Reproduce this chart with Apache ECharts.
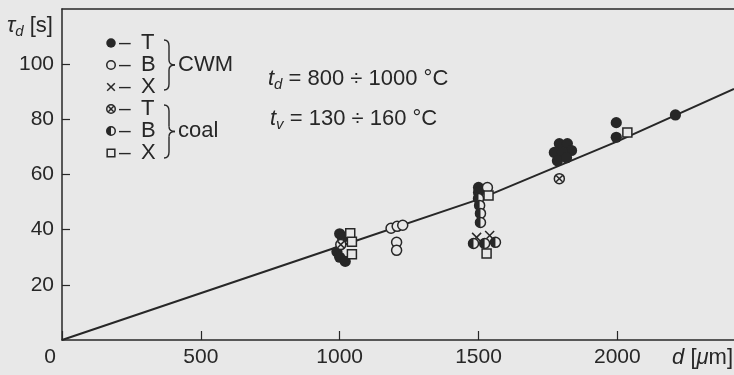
<!DOCTYPE html>
<html>
<head>
<meta charset="utf-8">
<script src="https://cdn.jsdelivr.net/npm/echarts@6/dist/echarts.min.js"></script>
<style>
  html, body { margin: 0; padding: 0; background: #e8e8e8; }
  #chart { width: 734px; height: 375px; }
</style>
</head>
<body>
<div id="chart"></div>
<script>
// Correlation line tau_d(d)
const lineD = [0, 1000, 1500, 2000, 2420];
const lineT = [0, 34, 51, 72, 91];

// CWM droplets: T, B, X fuels  [d (um), tau_d (s)]
const cwmT = [[1000, 38.5], [1010, 37], [990, 32], [1000, 30], [1020, 28.5],
              [1500, 55.3], [1500, 53.5],
              [1791, 71.2], [1820, 71.2], [1773, 68], [1835, 68.7], [1802, 68], [1784, 65], [1817, 66.1],
              [1996, 78.8], [1996, 73.5], [2209, 81.6]];
const cwmB = [[1185, 40.5], [1207, 41.2], [1227, 41.6], [1205, 35.4], [1205, 32.5], [1532, 55.3]];
const cwmX = [[1493, 37.2], [1540, 37.9]];

// Coal particles: T, B, X
const coalT = [[1004, 34.6], [1791, 58.5]];
const coalB = [[1500, 51.3], [1504, 48.8], [1507, 45.9], [1507, 42.6], [1482, 35], [1522, 35], [1561, 35.4]];
const coalX = [[1038, 38.7], [1044, 35.6], [1044, 31.1], [1536, 52.4], [1529, 31.4], [2036, 75.2]];

const xMin = 0, xMax = 2420, xStep = 500;
const yMin = 0, yMax = 120, yStep = 20;

const INK = '#272727';
const BG = '#e8e8e8';
const FONT = '"Liberation Sans", Arial, Helvetica, sans-serif';

// marker shapes in pixel space
function mark(kind, x, y, k) {
  k = k || 1;
  const r = 5 * k;
  const lw = 1.5;
  const ring = { type: 'circle', shape: { cx: x, cy: y, r: r }, style: { fill: BG, stroke: INK, lineWidth: lw } };
  const ln = (x1, y1, x2, y2) => ({ type: 'line', shape: { x1, y1, x2, y2 }, style: { stroke: INK, lineWidth: lw } });
  let children;
  if (kind === 'filled') {
    children = [{ type: 'circle', shape: { cx: x, cy: y, r: 5.6 * k }, style: { fill: INK } }];
  } else if (kind === 'open') {
    children = [ring];
  } else if (kind === 'cross') {
    const h = 4.5 * k;
    children = [ln(x - h, y - h, x + h, y + h), ln(x - h, y + h, x + h, y - h)];
  } else if (kind === 'crossCircle') {
    const h = 3.2 * k;
    children = [ring, ln(x - h, y - h, x + h, y + h), ln(x - h, y + h, x + h, y - h)];
  } else if (kind === 'half') {
    children = [ring, { type: 'sector', shape: { cx: x, cy: y, r0: 0, r: r, startAngle: Math.PI / 2, endAngle: Math.PI * 1.5, clockwise: true }, style: { fill: INK } }];
  } else {
    const h = 4.5 * k;
    children = [{ type: 'rect', shape: { x: x - h, y: y - h, width: 2 * h, height: 2 * h }, style: { fill: BG, stroke: INK, lineWidth: lw } }];
  }
  return { type: 'group', children: children };
}

function markerSeries(name, data, kind) {
  return {
    name: name, type: 'custom', data: data, encode: { x: 0, y: 1 }, z: 5,
    renderItem: function (params, api) {
      const p = api.coord([api.value(0), api.value(1)]);
      return mark(kind, p[0], p[1], 1);
    }
  };
}

// text runs laid out by measured widths
const ctx = document.createElement('canvas').getContext('2d');
function runs(x0, yc, parts, align) {
  const w = parts.map(p => { ctx.font = p.font; return ctx.measureText(p.t).width; });
  const total = w.reduce((a, b) => a + b, 0);
  let cur = align === 'right' ? x0 - total : x0;
  return parts.map((p, i) => {
    const el = { type: 'text', x: cur, y: yc + (p.dy || 0), z: 100,
      style: { text: p.t, font: p.font, fill: INK, align: 'left', textAlign: 'left', verticalAlign: 'middle', textVerticalAlign: 'middle' } };
    cur += w[i];
    return el;
  });
}
const F = (s, it) => (it ? 'italic ' : '') + s + 'px ' + FONT;

// legend block
const legendRows = [
  ['filled', 'T'], ['open', 'B'], ['cross', 'X'],
  ['crossCircle', 'T'], ['half', 'B'], ['square', 'X']
];
const legendY = [43, 65, 87, 109, 131, 153];
const graphics = [];
legendRows.forEach((row, i) => {
  const g = mark(row[0], 111, legendY[i], 0.85);
  g.z = 100;
  graphics.push(g);
  graphics.push({ type: 'text', x: 119, y: legendY[i], z: 100, style: { text: '\u2013', font: F(21), fill: INK, verticalAlign: 'middle', textVerticalAlign: 'middle' } });
  graphics.push({ type: 'text', x: 141, y: legendY[i], z: 100, style: { text: row[1], font: F(22), fill: INK, verticalAlign: 'middle', textVerticalAlign: 'middle' } });
});

function brace(x, y1, y2) {
  const ym = (y1 + y2) / 2, xm = x + 5, xt = x + 11;
  const st = { stroke: INK, lineWidth: 1.4, fill: 'none' };
  return [
    { type: 'bezierCurve', z: 100, shape: { x1: x, y1: y1, cpx1: xm, cpy1: y1, x2: xm, y2: y1 + 6 }, style: st },
    { type: 'line', z: 100, shape: { x1: xm, y1: y1 + 6, x2: xm, y2: ym - 5 }, style: st },
    { type: 'bezierCurve', z: 100, shape: { x1: xm, y1: ym - 5, cpx1: xm, cpy1: ym, x2: xt, y2: ym }, style: st },
    { type: 'bezierCurve', z: 100, shape: { x1: xt, y1: ym, cpx1: xm, cpy1: ym, x2: xm, y2: ym + 5 }, style: st },
    { type: 'line', z: 100, shape: { x1: xm, y1: ym + 5, x2: xm, y2: y2 - 6 }, style: st },
    { type: 'bezierCurve', z: 100, shape: { x1: xm, y1: y2 - 6, cpx1: xm, cpy1: y2, x2: x, y2: y2 }, style: st }
  ];
}
graphics.push(...brace(164, 40, 90));
graphics.push(...brace(164, 105, 158));
graphics.push(...runs(178, 65, [{ t: 'CWM', font: F(22) }]));
graphics.push(...runs(178, 131, [{ t: 'coal', font: F(22) }]));

// conditions
graphics.push(...runs(268, 79, [
  { t: 't', font: F(22, true) }, { t: 'd', font: F(15, true), dy: 6 }, { t: ' = 800 \u00F7 1000 \u00B0C', font: F(22) }
]));
graphics.push(...runs(270, 119, [
  { t: 't', font: F(22, true) }, { t: 'v', font: F(15, true), dy: 6 }, { t: ' = 130 \u00F7 160 \u00B0C', font: F(22) }
]));

// axis names
graphics.push(...runs(7, 26, [
  { t: '\u03C4', font: F(22, true) }, { t: 'd', font: F(15, true), dy: 6 }, { t: ' [s]', font: F(22) }
]));
graphics.push(...runs(733, 358, [
  { t: 'd', font: F(22, true) }, { t: ' [', font: F(22) }, { t: '\u03BC', font: F(22, true) }, { t: 'm]', font: F(22) }
], 'right'));

const chart = echarts.init(document.getElementById('chart'), null, { renderer: 'canvas' });
chart.setOption({
  backgroundColor: BG,
  animation: false,
  grid: { left: 62, right: 0, top: 9, bottom: 35 },
  xAxis: [{
    type: 'value', min: xMin, max: xMax, interval: xStep,
    axisLine: { show: true, onZero: false, lineStyle: { color: INK, width: 1.5 } },
    axisTick: { show: true, inside: true, length: 9, lineStyle: { color: INK, width: 1.2 } },
    splitLine: { show: false },
    axisLabel: {
      showMaxLabel: false, margin: 7, color: INK, fontSize: 21, fontFamily: FONT,
      formatter: v => (v === 0 ? '{z|0}' : String(v)),
      rich: { z: { fontSize: 21, fontFamily: FONT, color: INK, padding: [0, 24, 0, 0] } }
    }
  }, {
    type: 'value', position: 'top', min: xMin, max: xMax,
    axisLine: { show: true, onZero: false, lineStyle: { color: INK, width: 1.5 } },
    axisTick: { show: false }, axisLabel: { show: false }, splitLine: { show: false }
  }],
  yAxis: {
    type: 'value', min: yMin, max: yMax, interval: yStep,
    axisLine: { show: true, onZero: false, lineStyle: { color: INK, width: 1.5 } },
    axisTick: { show: true, inside: true, length: 8, lineStyle: { color: INK, width: 1.2 } },
    splitLine: { show: false },
    axisLabel: { showMinLabel: false, showMaxLabel: false, margin: 8, color: INK, fontSize: 21, fontFamily: FONT }
  },
  series: [
    { name: 'fit', type: 'line', data: lineD.map((d, i) => [d, lineT[i]]), symbol: 'none', z: 2,
      lineStyle: { color: INK, width: 2 } },
    markerSeries('CWM T', cwmT, 'filled'),
    markerSeries('CWM B', cwmB, 'open'),
    markerSeries('CWM X', cwmX, 'cross'),
    markerSeries('coal T', coalT, 'crossCircle'),
    markerSeries('coal B', coalB, 'half'),
    markerSeries('coal X', coalX, 'square')
  ],
  graphic: { elements: graphics }
});
</script>
</body>
</html>
